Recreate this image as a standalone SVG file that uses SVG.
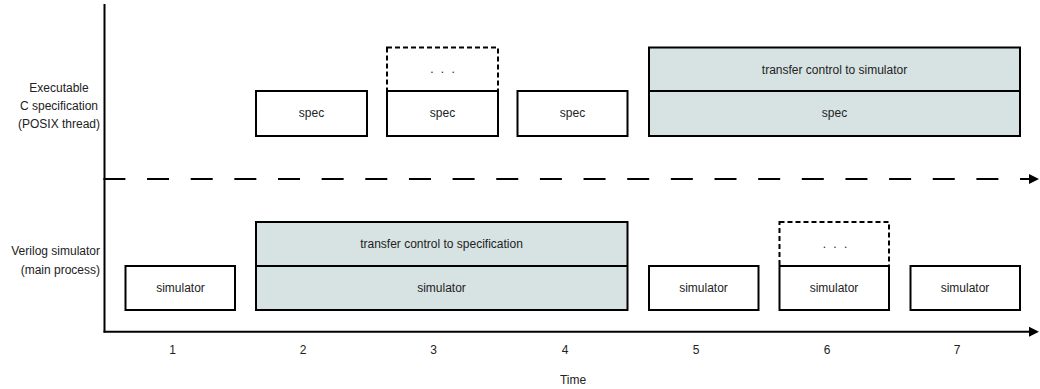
<svg xmlns="http://www.w3.org/2000/svg" width="1040" height="389" viewBox="0 0 1040 389">
<style>
text{font-family:"Liberation Sans",Arial,sans-serif;font-size:12px;fill:#222;text-anchor:middle}
.box{fill:#fff;stroke:#000;stroke-width:2}
.shade{fill:#d7e3e3;stroke:#000;stroke-width:2}
.dbox{fill:none;stroke:#000;stroke-width:2;stroke-dasharray:5 3}
.ax{stroke:#000;stroke-width:2;fill:none}
.dots{letter-spacing:2px}
</style>
<g id="axes">
<line class="ax" x1="104.5" y1="4" x2="104.5" y2="332.5"/>
<line class="ax" x1="103.5" y1="331.7" x2="1030" y2="331.7"/>
<polygon points="1029,326.7 1039,331.7 1029,336.7" fill="#000"/>
<text x="172.5" y="354">1</text>
<text x="303" y="354">2</text>
<text x="433.5" y="354">3</text>
<text x="565" y="354">4</text>
<text x="696" y="354">5</text>
<text x="827" y="354">6</text>
<text x="957" y="354">7</text>
<text x="573" y="384">Time</text>
</g>
<g id="connectors">
<line class="ax" x1="103.4" y1="179" x2="1042" y2="179" stroke-dasharray="22 21.65" clip-path="url(#c)"/>
<polygon points="1029,174 1039,179 1029,184" fill="#000"/>
</g>
<defs><clipPath id="c"><rect x="100" y="170" width="929" height="20"/></clipPath></defs>
<g id="lane-spec">
<text x="59" y="92">Executable</text>
<text x="59" y="110">C specification</text>
<text x="59" y="127.5">(POSIX thread)</text>
</g>
<g id="lane-sim">
<text x="100" y="255" style="text-anchor:end">Verilog simulator</text>
<text x="100" y="274" style="text-anchor:end">(main process)</text>
</g>
<g id="spec1"><rect class="box" x="256" y="91" width="111" height="45"/><text x="311.5" y="117">spec</text></g>
<g id="spec2-more"><rect class="dbox" x="387" y="47.5" width="111" height="43.5"/><text class="dots" x="443.5" y="73">. . .</text></g>
<g id="spec2"><rect class="box" x="387" y="91" width="111" height="45"/><text x="442.5" y="117">spec</text></g>
<g id="spec3"><rect class="box" x="517.5" y="91" width="110" height="45"/><text x="572.5" y="117">spec</text></g>
<g id="spec4"><rect class="shade" x="649" y="47.5" width="371" height="88.5"/><line class="ax" x1="649" y1="91" x2="1020" y2="91"/><text x="834.5" y="73.5">transfer control to simulator</text><text x="834.5" y="117">spec</text></g>
<g id="sim1"><rect class="box" x="125.5" y="266" width="109.5" height="44"/><text x="180.5" y="291.5">simulator</text></g>
<g id="sim2"><rect class="shade" x="256" y="222" width="371.5" height="88"/><line class="ax" x1="256" y1="266" x2="627.5" y2="266"/><text x="441.5" y="247.5">transfer control to specification</text><text x="441.5" y="291.5">simulator</text></g>
<g id="sim5"><rect class="box" x="649" y="266" width="109.5" height="44"/><text x="703.5" y="291.5">simulator</text></g>
<g id="sim6-more"><rect class="dbox" x="779.5" y="222" width="109.5" height="44"/><text class="dots" x="836" y="248">. . .</text></g>
<g id="sim6"><rect class="box" x="779.5" y="266" width="109.5" height="44"/><text x="834" y="291.5">simulator</text></g>
<g id="sim7"><rect class="box" x="910.5" y="266" width="109.5" height="44"/><text x="965" y="291.5">simulator</text></g>
</svg>
